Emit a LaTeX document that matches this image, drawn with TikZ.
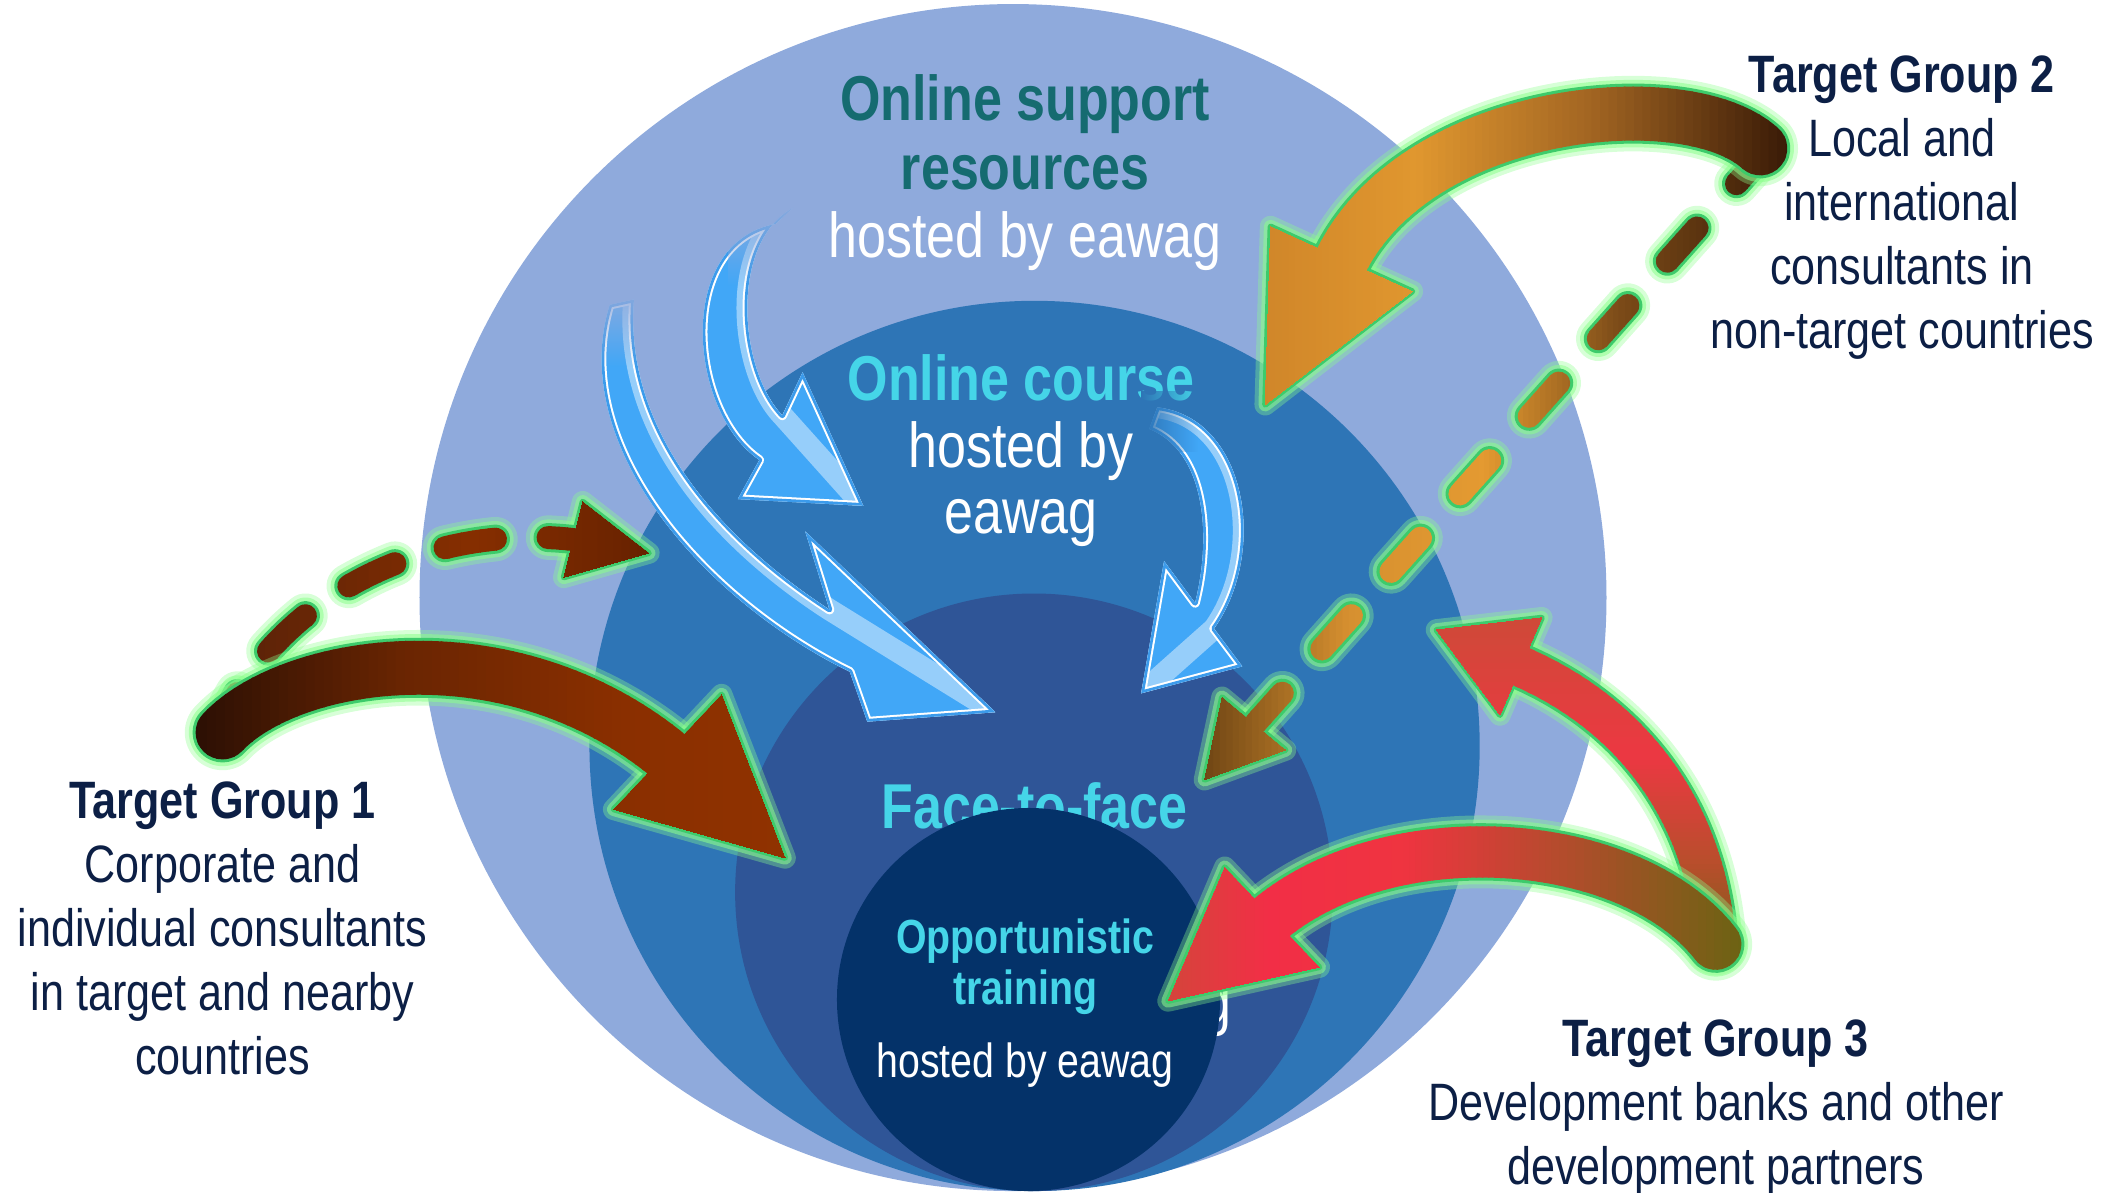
\documentclass[tikz,border=0pt]{standalone}
\usepackage{fontspec}
\setmainfont{Liberation Sans}[FakeStretch=0.82]
\usetikzlibrary{fadings}

\definecolor{ringouter}{HTML}{8FAADC}
\definecolor{ringmid}{HTML}{2E75B6}
\definecolor{ringface}{HTML}{2F5597}
\definecolor{ringinner}{HTML}{043269}
\definecolor{navytext}{HTML}{0C1F45}
\definecolor{tealtext}{HTML}{156B70}
\definecolor{cyantext}{HTML}{45D5E8}
\definecolor{bluefill}{HTML}{41A7F7}
\definecolor{blueedge}{HTML}{3C9BEB}
\definecolor{glowsoft}{HTML}{8CFF8C}
\definecolor{glowedge}{HTML}{3DCB6B}
% colour stops of the shaded arrows
\definecolor{oneA}{HTML}{2A0F04}\definecolor{oneB}{HTML}{6A2502}
\definecolor{oneC}{HTML}{8A2F00}\definecolor{oneD}{HTML}{903200}
\definecolor{dashA}{HTML}{52200A}\definecolor{dashB}{HTML}{862E00}
\definecolor{dashC}{HTML}{652100}
\definecolor{twoA}{HTML}{361806}\definecolor{twoB}{HTML}{A26522}
\definecolor{twoC}{HTML}{E0972F}\definecolor{twoD}{HTML}{CF8529}
\definecolor{tdA}{HTML}{3E1F08}\definecolor{tdB}{HTML}{7C4B18}
\definecolor{tdC}{HTML}{E49A31}\definecolor{tdD}{HTML}{D69030}
\definecolor{tdE}{HTML}{684012}
\definecolor{upA}{HTML}{6A6412}\definecolor{upB}{HTML}{B84E2C}
\definecolor{upC}{HTML}{EC3842}\definecolor{upD}{HTML}{CC4B37}
\definecolor{lfA}{HTML}{6A6412}\definecolor{lfB}{HTML}{B84A2E}
\definecolor{lfC}{HTML}{EF3440}\definecolor{lfD}{HTML}{F22E46}
\definecolor{lfE}{HTML}{D2473A}

\tikzfading[name=fadedown, top color=transparent!0, bottom color=transparent!100]
\tikzfading[name=faderight, left color=transparent!0, right color=transparent!100]

% colour bands: from #1 to #2 (x or y), colour #3 to #4, drawing #5
\newcommand{\bandsx}[5]{%
  \foreach \k in {0,...,23}{%
    \pgfmathsetmacro{\bandA}{#1+(#2-#1)*\k/24}%
    \pgfmathsetmacro{\bandB}{#1+(#2-#1)*(\k+1)/24+(#2-#1)/abs(#2-#1)}%
    \pgfmathsetmacro{\bandP}{100*(\k+0.5)/24}%
    \colorlet{bandcol}{#4!\bandP!#3}%
    \begin{scope}[draw=bandcol, fill=bandcol]
      \clip (\bandA,-20) rectangle (\bandB,920);
      #5
    \end{scope}%
  }%
}
\newcommand{\bandsy}[5]{%
  \foreach \k in {0,...,23}{%
    \pgfmathsetmacro{\bandA}{#1+(#2-#1)*\k/24}%
    \pgfmathsetmacro{\bandB}{#1+(#2-#1)*(\k+1)/24+(#2-#1)/abs(#2-#1)}%
    \pgfmathsetmacro{\bandP}{100*(\k+0.5)/24}%
    \colorlet{bandcol}{#4!\bandP!#3}%
    \begin{scope}[draw=bandcol, fill=bandcol]
      \clip (-20,\bandA) rectangle (1600,\bandB);
      #5
    \end{scope}%
  }%
}

% the big arrows, #1 = extra line width
\newcommand{\arrowone}[1]{%
  \draw[line width=40pt+#1] (oneS) .. controls (oneC1) and (oneC2) .. (oneM);
  \filldraw[line width=#1] (oneHa) -- (oneT) -- (oneHb) -- cycle;}
\newcommand{\arrowonedash}[1]{%
  \draw[line width=17pt+#1, dash pattern=on 38pt off 39pt, dash phase=9pt]
    (oneDS) .. controls (oneDC1) and (oneDC2) .. (oneDM);
  \filldraw[line width=#1] (oneDa) -- (oneDT) -- (oneDb) -- cycle;}
\newcommand{\arrowtwo}[1]{%
  \draw[line width=40pt+#1] (twoS) .. controls (twoC1) and (twoC2) .. (twoM);
  \filldraw[line width=#1] (twoHa) -- (twoT) -- (twoHb) -- cycle;}
\newcommand{\arrowtwodash}[1]{%
  \draw[line width=17pt+#1, dash pattern=on 33pt off 44pt, dash phase=14pt]
    (twoDS) -- (twoDM);
  \filldraw[line width=#1] (twoDa) -- (twoDT) -- (twoDb) -- cycle;}
\newcommand{\arrowthreeup}[1]{%
  \draw[line width=30pt+#1] (threeS) .. controls (threeUC1) and (threeUC2) .. (threeUM);
  \filldraw[line width=#1] (threeUa) -- (threeUT) -- (threeUb) -- cycle;}
\newcommand{\arrowthreeleft}[1]{%
  \draw[line width=38pt+#1] (threeS) .. controls (threeC1) and (threeC2) .. (threeM);
  \filldraw[line width=#1] (threeHa) -- (threeT) -- (threeHb) -- cycle;}

% green glow round an arrow
\newcommand{\glow}[1]{%
  \begin{scope}[draw=glowsoft, fill=glowsoft, opacity=.35] #1{16pt} \end{scope}
  \begin{scope}[draw=glowsoft, fill=glowsoft, opacity=.55] #1{10pt} \end{scope}
  \begin{scope}[draw=glowedge, fill=glowedge] #1{4.5pt} \end{scope}}

% outlines of the blue arrows
\newcommand{\bluepathA}{(aT1) .. controls (540,180) and (548,275) .. (aN1) -- (aH1)
  -- (aTip) -- (aH2) -- (aN2) .. controls (510,305) and (500,180) .. (aT2) -- cycle}
\newcommand{\bluepathB}{(bT1) .. controls (462,320) and (535,400) .. (bN1) -- (bH1)
  -- (bTip) -- (bH2) -- (bN2) .. controls (522,445) and (420,330) .. (bT2) -- cycle}
\newcommand{\bluepathC}{(cT1) .. controls (895,335) and (898,400) .. (cN1) -- (cH1)
  -- (cTip) -- (cH2) -- (cN2) .. controls (940,410) and (925,310) .. (cT2) -- cycle}
% #1 outline, #2 inner edge for the light sheen
\newcommand{\bluearrow}[2]{%
  \begin{scope}
    \clip #1;
    \fill[bluefill] #1;
    \draw[white, opacity=.45, line width=16pt] #2;
    \draw[white, line width=7pt] #1;
    \draw[blueedge, line width=4pt] #1;
  \end{scope}}

\begin{document}
\begin{tikzpicture}[x=1pt, y=-1pt, line cap=round, line join=round,
    grouptext/.style={text=navytext, align=center, inner sep=0pt,
      font=\fontsize{39}{47.5}\selectfont},
    ringtext/.style={text=white, align=center, inner sep=0pt,
      font=\fontsize{47}{51}\selectfont}]
\useasboundingbox (0,0) rectangle (1568,884);

% rings
\fill[ringouter] (751,443) circle [radius=440pt];
\fill[ringmid] (767,553) circle [radius=330pt];
\fill[ringface] (766.5,661.5) circle [radius=221.5pt];
\node[ringtext, anchor=north, text=cyantext, font=\bfseries\fontsize{47}{47}\selectfont]
  (face) at (767,580) {Face-to-face};
\node[ringtext, anchor=base east] (facerest) at (913,759) {g};
\fill[ringinner] (762.5,741) circle [radius=142pt];

% ring texts
\node[ringtext, anchor=north] (support) at (760,55)
  {\textbf{\color{tealtext}Online support}\\\textbf{\color{tealtext}resources}\\hosted by eawag};
\node[ringtext, anchor=north, font=\fontsize{47}{49}\selectfont] (course) at (757,263)
  {\textbf{\color{cyantext}Online course}\\hosted by\\eawag};
\node[ringtext, anchor=north, text=cyantext, font=\bfseries\fontsize{35.5}{38}\selectfont]
  (opp) at (760,681) {Opportunistic\\training};
\node[ringtext, anchor=north, font=\fontsize{35.5}{38}\selectfont]
  (opphost) at (760,773) {hosted by eawag};

% blue arrows between the rings
\coordinate (aT1) at (588,154); \coordinate (aT2) at (575,166);
\coordinate (aN1) at (580,308); \coordinate (aN2) at (563,341);
\coordinate (aH1) at (595,276); \coordinate (aH2) at (547,370);
\coordinate (aTip) at (640,375);
\coordinate (bT1) at (470,222); \coordinate (bT2) at (452,226);
\coordinate (bN1) at (615,452); \coordinate (bN2) at (630,498);
\coordinate (bH1) at (597,394); \coordinate (bH2) at (643,535);
\coordinate (bTip) at (738,528);
\coordinate (cT1) at (852,318); \coordinate (cT2) at (858,302);
\coordinate (cN1) at (886,447); \coordinate (cN2) at (900,466);
\coordinate (cH1) at (863,416); \coordinate (cH2) at (921,494);
\coordinate (cTip) at (846,514);
\bluearrow{\bluepathA}{(aT1) .. controls (540,180) and (548,275) .. (aN1) -- (aTip)}
\bluearrow{\bluepathB}{(bT1) .. controls (462,320) and (535,400) .. (bN1) -- (bTip)}
\bluearrow{\bluepathC}{(cT2) .. controls (925,310) and (940,410) .. (cN2) -- (cTip)}
\fill[ringouter, path fading=fadedown] (540,148) rectangle (605,212);
\fill[ringouter, path fading=fadedown] (430,212) rectangle (490,272);
\fill[ringmid, path fading=faderight] (846,290) rectangle (888,335);

% target group 1
\coordinate (oneS) at (165,543);
\coordinate (oneC1) at (215,490); \coordinate (oneC2) at (375,463);
\coordinate (oneM) at (494,559);
\coordinate (oneHa) at (455,600); \coordinate (oneHb) at (535,515);
\coordinate (oneT) at (582,636);
\coordinate (oneDS) at (163,540);
\coordinate (oneDC1) at (205,440); \coordinate (oneDC2) at (320,388);
\coordinate (oneDM) at (425,400);
\coordinate (oneDa) at (432,372); \coordinate (oneDb) at (418,428);
\coordinate (oneDT) at (481,410);
\glow{\arrowonedash}
\bandsx{145}{350}{dashA}{dashB}{\arrowonedash{0pt}}
\bandsx{350}{490}{dashB}{dashC}{\arrowonedash{0pt}}
\glow{\arrowone}
\bandsx{140}{300}{oneA}{oneB}{\arrowone{0pt}}
\bandsx{300}{460}{oneB}{oneC}{\arrowone{0pt}}
\bandsx{460}{590}{oneC}{oneD}{\arrowone{0pt}}

% target group 2
\coordinate (twoS) at (1305,110);
\coordinate (twoC1) at (1250,60); \coordinate (twoC2) at (1050,80);
\coordinate (twoM) at (994,194);
\coordinate (twoHa) at (942,168); \coordinate (twoHb) at (1047,216);
\coordinate (twoT) at (938,300);
\coordinate (twoDS) at (1300,122); \coordinate (twoDM) at (931,536);
\coordinate (twoDa) at (906,517); \coordinate (twoDb) at (953,556);
\coordinate (twoDT) at (893,578);
\glow{\arrowtwodash}
\bandsx{1315}{1200}{tdA}{tdB}{\arrowtwodash{0pt}}
\bandsx{1200}{1100}{tdB}{tdC}{\arrowtwodash{0pt}}
\bandsx{1100}{1000}{tdC}{tdD}{\arrowtwodash{0pt}}
\bandsx{1000}{885}{tdD}{tdE}{\arrowtwodash{0pt}}
\glow{\arrowtwo}
\bandsx{1330}{1180}{twoA}{twoB}{\arrowtwo{0pt}}
\bandsx{1180}{1050}{twoB}{twoC}{\arrowtwo{0pt}}
\bandsx{1050}{930}{twoC}{twoD}{\arrowtwo{0pt}}

% target group 3
\coordinate (threeS) at (1272,700);
\coordinate (threeUC1) at (1265,600); \coordinate (threeUC2) at (1208,529);
\coordinate (threeUM) at (1127,494);
\coordinate (threeUa) at (1143,458); \coordinate (threeUb) at (1112,530);
\coordinate (threeUT) at (1065,467);
\coordinate (threeC1) at (1210,620); \coordinate (threeC2) at (1035,606);
\coordinate (threeM) at (943,680);
\coordinate (threeHa) at (908,643); \coordinate (threeHb) at (978,717);
\coordinate (threeT) at (866,742);
\glow{\arrowthreeup}
\bandsy{725}{640}{upA}{upB}{\arrowthreeup{0pt}}
\bandsy{640}{560}{upB}{upC}{\arrowthreeup{0pt}}
\bandsy{560}{450}{upC}{upD}{\arrowthreeup{0pt}}
\glow{\arrowthreeleft}
\bandsx{1295}{1150}{lfA}{lfB}{\arrowthreeleft{0pt}}
\bandsx{1150}{1040}{lfB}{lfC}{\arrowthreeleft{0pt}}
\bandsx{1040}{940}{lfC}{lfD}{\arrowthreeleft{0pt}}
\bandsx{940}{860}{lfD}{lfE}{\arrowthreeleft{0pt}}

% target groups
\node[grouptext, anchor=north] (tgone) at (165,579)
  {\textbf{Target Group 1}\\Corporate and\\individual consultants\\in target and nearby\\countries};
\node[grouptext, anchor=north] (tgtwo) at (1410,41)
  {\textbf{Target Group 2}\\Local and\\international\\consultants in\\non-target countries};
\node[grouptext, anchor=north] (tgthree) at (1272,756)
  {\textbf{Target Group 3}\\Development banks and other\\development partners};
\end{tikzpicture}
\end{document}
